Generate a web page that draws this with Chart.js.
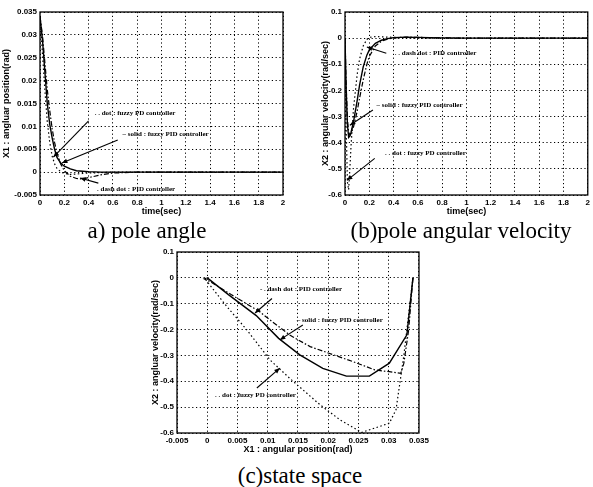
<!DOCTYPE html>
<html>
<head>
<meta charset="utf-8">
<script src="https://cdn.jsdelivr.net/npm/chart.js@4/dist/chart.umd.min.js"></script>
<style>
  body { margin: 0; background: #fff; width: 593px; height: 487px; position: relative; overflow: hidden; }
  canvas { position: absolute; }
  .cap { position: absolute; font-family: "Liberation Serif", serif; font-size: 23px; line-height: 23px; text-align: center; color: #000; white-space: nowrap; }
</style>
</head>
<body>
<canvas id="chartA" style="left:0;top:0"></canvas>
<canvas id="chartB" style="left:310px;top:0"></canvas>
<canvas id="chartC" style="left:146px;top:240px"></canvas>
<div class="cap" style="left:47px;top:219px;width:200px">a) pole angle</div>
<div class="cap" style="left:331px;top:219px;width:260px">(b)pole angular velocity</div>
<div class="cap" style="left:200px;top:464px;width:200px">(c)state space</div>
<script>
// (a) pole angle
const timeA = [0, 0.02, 0.04, 0.06, 0.08, 0.1, 0.12, 0.14, 0.17, 0.2, 0.25, 0.3, 0.35, 0.4, 0.5, 0.6, 0.8, 1, 1.2, 1.4, 1.6, 1.8, 2];
const solidA = [0.034, 0.029, 0.022, 0.015, 0.0105, 0.0075, 0.005, 0.0032, 0.002, 0.0013, 0.0007, 0.0003, 0.0002, 0.0001, 0, 0, 0, 0, 0, 0, 0, 0, 0];
const dotA = [0.034, 0.026, 0.018, 0.011, 0.0065, 0.0035, 0.0018, 0.0008, 0.0001, -0.0003, -0.0005, -0.0004, -0.0003, -0.0002, -0.0001, 0, 0, 0, 0, 0, 0, 0, 0];
const dashA = [0.034, 0.030, 0.024, 0.018, 0.0135, 0.0095, 0.0065, 0.0042, 0.0018, 0.0003, -0.0009, -0.0014, -0.0015, -0.0012, -0.0006, -0.0002, 0, 0, 0, 0, 0, 0, 0];
const xTicksA = [0, 0.2, 0.4, 0.6, 0.8, 1, 1.2, 1.4, 1.6, 1.8, 2];
const yTicksA = [-0.005, 0, 0.005, 0.01, 0.015, 0.02, 0.025, 0.03, 0.035];

// (b) pole angular velocity
const timeB = [0, 0.01, 0.02, 0.03, 0.04, 0.05, 0.07, 0.1, 0.12, 0.15, 0.18, 0.2, 0.25, 0.3, 0.35, 0.4, 0.5, 0.6, 0.8, 1, 1.2, 1.4, 1.6, 1.8, 2];
const solidB = [0, -0.2, -0.33, -0.38, -0.375, -0.36, -0.32, -0.24, -0.18, -0.11, -0.065, -0.045, -0.02, -0.008, -0.002, 0.002, 0.004, 0.003, 0.001, 0, 0, 0, 0, 0, 0];
const dotB = [0, -0.35, -0.55, -0.58, -0.5, -0.41, -0.27, -0.14, -0.08, -0.03, -0.005, 0.003, 0.006, 0.005, 0.004, 0.003, 0.001, 0, 0, 0, 0, 0, 0, 0, 0];
const dashB = [0, -0.18, -0.31, -0.36, -0.37, -0.365, -0.34, -0.28, -0.23, -0.16, -0.1, -0.07, -0.03, -0.012, -0.004, 0.001, 0.004, 0.003, 0.001, 0, 0, 0, 0, 0, 0];
const xTicksB = [0, 0.2, 0.4, 0.6, 0.8, 1, 1.2, 1.4, 1.6, 1.8, 2];
const yTicksB = [-0.6, -0.5, -0.4, -0.3, -0.2, -0.1, 0, 0.1];

// (c) state space: X1 vs X2
const solidCx = [0.034, 0.033, 0.0301, 0.0268, 0.023, 0.0191, 0.0153, 0.0118, 0.0081, 0.0035, 0];
const solidCy = [0, -0.22, -0.33, -0.38, -0.38, -0.35, -0.298, -0.234, -0.146, -0.065, 0];
const dashCx = [0.034, 0.0333, 0.0325, 0.032, 0.0301, 0.0277, 0.0241, 0.017, 0.0137, 0.0105, 0.0086, 0.004, 0.0005, -0.0005, 0];
const dashCy = [0, -0.2, -0.33, -0.369, -0.363, -0.356, -0.324, -0.266, -0.222, -0.165, -0.13, -0.065, -0.015, -0.004, 0];
const dotCx = [0.034, 0.0325, 0.0312, 0.0301, 0.0255, 0.022, 0.0186, 0.0137, 0.0104, 0.0065, 0.0032, 0, -0.0003, 0];
const dotCy = [0, -0.3, -0.51, -0.562, -0.598, -0.55, -0.49, -0.39, -0.318, -0.2, -0.11, -0.015, -0.005, 0];
const xTicksC = [-0.005, 0, 0.005, 0.01, 0.015, 0.02, 0.025, 0.03, 0.035];
const yTicksC = [-0.6, -0.5, -0.4, -0.3, -0.2, -0.1, 0, 0.1];

// labels with arrows, in data units
const notesA = [
  { text: '. . dot : fuzzy PD controller', at: [0.45, 0.0129], from: [0.40, 0.0112], to: [0.11, 0.0033] },
  { text: '\u2013 solid : fuzzy PID controller', at: [0.68, 0.0083], from: [0.64, 0.0070], to: [0.18, 0.0020] },
  { text: '. dash dot : PID controller', at: [0.47, -0.0037], from: [0.48, -0.0024], to: [0.33, -0.0013] }
];
const notesB = [
  { text: '. . dash dot : PID controller', at: [0.41, -0.057], from: [0.34, -0.058], to: [0.18, -0.034] },
  { text: '\u2013 solid : fuzzy PID controller', at: [0.26, -0.256], from: [0.23, -0.275], to: [0.04, -0.333] },
  { text: '. . dot : fuzzy PD controller', at: [0.33, -0.44], from: [0.245, -0.46], to: [0.016, -0.544] }
];
const notesC = [
  { text: '- . dash dot : PID controller', at: [0.0087, -0.043], from: [0.0107, -0.08], to: [0.0079, -0.136] },
  { text: '\u2013 solid : fuzzy PID controller', at: [0.0148, -0.163], from: [0.0158, -0.182], to: [0.012, -0.24] },
  { text: '. . dot : fuzzy PD controller', at: [0.0013, -0.453], from: [0.0082, -0.426], to: [0.012, -0.349] }
];

const tickFont = { family: '"Liberation Sans", Arial', size: 8, weight: 'bold' };
const titleFont = { family: '"Liberation Sans", Arial', size: 9, weight: 'bold' };

function drawArrow(ctx, x0, y0, x1, y1) {
  const ang = Math.atan2(y1 - y0, x1 - x0);
  ctx.beginPath();
  ctx.moveTo(x0, y0);
  ctx.lineTo(x1, y1);
  ctx.stroke();
  ctx.beginPath();
  ctx.moveTo(x1, y1);
  ctx.lineTo(x1 - 6 * Math.cos(ang - 0.4), y1 - 6 * Math.sin(ang - 0.4));
  ctx.lineTo(x1 - 6 * Math.cos(ang + 0.4), y1 - 6 * Math.sin(ang + 0.4));
  ctx.closePath();
  ctx.fill();
}

const frameAndNotes = {
  id: 'frameAndNotes',
  afterDatasetsDraw(chart, args, opts) {
    const { ctx, chartArea: a } = chart;
    const x = chart.scales.x, y = chart.scales.y;
    ctx.save();
    ctx.strokeStyle = '#000';
    ctx.fillStyle = '#000';
    ctx.lineWidth = 1.3;
    ctx.strokeRect(a.left, a.top, a.right - a.left, a.bottom - a.top);
    ctx.lineWidth = 1.1;
    ctx.font = 'bold 7px "Liberation Serif"';
    ctx.textBaseline = 'middle';
    (opts.notes || []).forEach(n => {
      ctx.fillText(n.text, x.getPixelForValue(n.at[0]), y.getPixelForValue(n.at[1]));
      drawArrow(ctx,
        x.getPixelForValue(n.from[0]), y.getPixelForValue(n.from[1]),
        x.getPixelForValue(n.to[0]), y.getPixelForValue(n.to[1]));
    });
    ctx.restore();
  }
};

function series(xs, ys, dash, width) {
  return {
    data: xs.map((v, i) => ({ x: v, y: ys[i] })),
    showLine: true,
    borderColor: '#000',
    borderWidth: width,
    borderDash: dash,
    pointRadius: 0,
    tension: 0
  };
}

function makeChart(id, w, h, cfg) {
  const canvas = document.getElementById(id);
  canvas.width = w;
  canvas.height = h;
  new Chart(canvas.getContext('2d'), {
    type: 'scatter',
    data: { datasets: cfg.datasets },
    options: {
      responsive: false,
      animation: false,
      layout: { padding: cfg.padding },
      plugins: {
        legend: { display: false },
        tooltip: { enabled: false },
        frameAndNotes: { notes: cfg.notes }
      },
      scales: {
        x: {
          type: 'linear',
          min: cfg.xTicks[0],
          max: cfg.xTicks[cfg.xTicks.length - 1],
          afterBuildTicks: s => { s.ticks = cfg.xTicks.map(v => ({ value: v })); },
          afterFit: s => { s.height = cfg.xAxisH; },
          grid: { color: '#000', lineWidth: 1, drawTicks: false },
          border: { display: false, dash: [1.2, 2.6] },
          ticks: { color: '#000', font: tickFont, padding: 3, maxRotation: 0, autoSkip: false, callback: v => String(v) },
          title: { display: true, text: cfg.xTitle, color: '#000', font: titleFont, padding: { top: 0, bottom: 1 } }
        },
        y: {
          type: 'linear',
          min: cfg.yTicks[0],
          max: cfg.yTicks[cfg.yTicks.length - 1],
          afterBuildTicks: s => { s.ticks = cfg.yTicks.map(v => ({ value: v })); },
          afterFit: s => { s.width = cfg.yAxisW; },
          grid: { color: '#000', lineWidth: 1, drawTicks: false },
          border: { display: false, dash: [1.2, 2.6] },
          ticks: { color: '#000', font: tickFont, padding: 3, autoSkip: false, callback: v => String(v) },
          title: { display: true, text: cfg.yTitle, color: '#000', font: titleFont, padding: { top: cfg.yTitlePad, bottom: 0 } }
        }
      }
    },
    plugins: [frameAndNotes]
  });
}

makeChart('chartA', 290, 218, {
  datasets: [
    series(timeA, dotA, [1.5, 2.5], 1.2),
    series(timeA, dashA, [5, 2, 1.5, 2], 1.2),
    series(timeA, solidA, [], 1.4)
  ],
  notes: notesA,
  xTicks: xTicksA, yTicks: yTicksA,
  xTitle: 'time(sec)', yTitle: 'X1 : angluar position(rad)',
  yAxisW: 40, xAxisH: 23, yTitlePad: 1,
  padding: { top: 12, right: 7, left: 0, bottom: 0 }
});

makeChart('chartB', 283, 218, {
  datasets: [
    series(timeB, dotB, [1.5, 2.5], 1.2),
    series(timeB, dashB, [5, 2, 1.5, 2], 1.2),
    series(timeB, solidB, [], 1.4)
  ],
  notes: notesB,
  xTicks: xTicksB, yTicks: yTicksB,
  xTitle: 'time(sec)', yTitle: 'X2 : angular velocity(rad/sec)',
  yAxisW: 35, xAxisH: 23, yTitlePad: 10,
  padding: { top: 12, right: 1, left: 0, bottom: 0 }
});

makeChart('chartC', 286, 216, {
  datasets: [
    series(dotCx, dotCy, [1.5, 2.5], 1.2),
    series(dashCx, dashCy, [5, 2, 1.5, 2], 1.2),
    series(solidCx, solidCy, [], 1.4)
  ],
  notes: notesC,
  xTicks: xTicksC, yTicks: yTicksC,
  xTitle: 'X1 : angular position(rad)', yTitle: 'X2 : angluar velocity(rad/sec)',
  yAxisW: 31, xAxisH: 23, yTitlePad: 4,
  padding: { top: 12, right: 12, left: 0, bottom: 0 }
});
</script>
</body>
</html>
